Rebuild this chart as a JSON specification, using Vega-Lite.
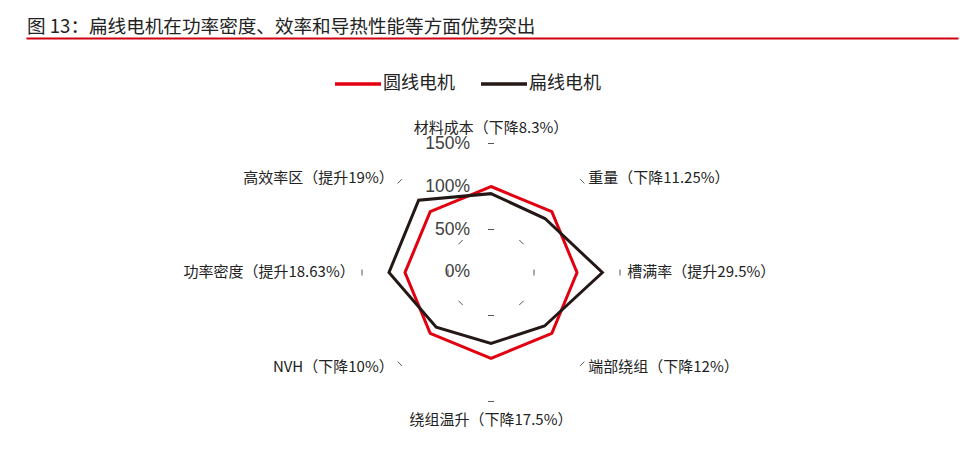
{
  "$schema": "https://vega.github.io/schema/vega-lite/v6.json",
  "width": 932,
  "height": 418,
  "autosize": {"type": "none"},
  "padding": {"left": 26, "right": 2, "top": 38, "bottom": 0},
  "background": "white",
  "title": {
    "text": "图 13：扁线电机在功率密度、效率和导热性能等方面优势突出",
    "anchor": "start",
    "font": "Noto Sans CJK SC",
    "fontSize": 18.6,
    "fontWeight": "normal",
    "color": "#222222",
    "offset": 1,
    "dx": 1
  },
  "config": {"view": {"stroke": null}},
  "datasets": {
    "radar": [
      {"motor": "圆线电机", "dim": "材料成本", "order": 0, "value": 100},
      {"motor": "圆线电机", "dim": "重量", "order": 1, "value": 100},
      {"motor": "圆线电机", "dim": "槽满率", "order": 2, "value": 100},
      {"motor": "圆线电机", "dim": "端部绕组", "order": 3, "value": 100},
      {"motor": "圆线电机", "dim": "绕组温升", "order": 4, "value": 100},
      {"motor": "圆线电机", "dim": "NVH", "order": 5, "value": 100},
      {"motor": "圆线电机", "dim": "功率密度", "order": 6, "value": 100},
      {"motor": "圆线电机", "dim": "高效率区", "order": 7, "value": 100},
      {"motor": "扁线电机", "dim": "材料成本", "order": 0, "value": 91.7},
      {"motor": "扁线电机", "dim": "重量", "order": 1, "value": 88.75},
      {"motor": "扁线电机", "dim": "槽满率", "order": 2, "value": 129.5},
      {"motor": "扁线电机", "dim": "端部绕组", "order": 3, "value": 88},
      {"motor": "扁线电机", "dim": "绕组温升", "order": 4, "value": 82.5},
      {"motor": "扁线电机", "dim": "NVH", "order": 5, "value": 90},
      {"motor": "扁线电机", "dim": "功率密度", "order": 6, "value": 118.63},
      {"motor": "扁线电机", "dim": "高效率区", "order": 7, "value": 119}
    ],
    "labels": [
      {"order": 0, "label": "材料成本（下降8.3%）"},
      {"order": 1, "label": "重量（下降11.25%）"},
      {"order": 2, "label": "槽满率（提升29.5%）"},
      {"order": 3, "label": "端部绕组（下降12%）"},
      {"order": 4, "label": "绕组温升（下降17.5%）"},
      {"order": 5, "label": "NVH（下降10%）"},
      {"order": 6, "label": "功率密度（提升18.63%）"},
      {"order": 7, "label": "高效率区（提升19%）"}
    ],
    "rings": [
      {"ring": 50, "order": [0, 1, 2, 3, 4, 5, 6, 7]},
      {"ring": 100, "order": [0, 1, 2, 3, 4, 5, 6, 7]},
      {"ring": 150, "order": [0, 1, 2, 3, 4, 5, 6, 7]}
    ],
    "ticks": [
      {"value": 0, "text": "0%"},
      {"value": 50, "text": "50%"},
      {"value": 100, "text": "100%"},
      {"value": 150, "text": "150%"}
    ]
  },
  "layer": [
    {
      "data": {"name": "rings"},
      "transform": [
        {"flatten": ["order"]},
        {"calculate": "datum.order * PI / 4", "as": "a"},
        {"calculate": "datum.ring * sin(datum.a) - 3.5 * cos(datum.a)", "as": "x1"},
        {"calculate": "datum.ring * sin(datum.a) + 3.5 * cos(datum.a)", "as": "x2"},
        {"calculate": "datum.ring * cos(datum.a) + 3.5 * sin(datum.a)", "as": "y1"},
        {"calculate": "datum.ring * cos(datum.a) - 3.5 * sin(datum.a)", "as": "y2"}
      ],
      "mark": {"type": "rule", "color": "#555555", "strokeWidth": 1},
      "encoding": {
        "x": {
          "field": "x1",
          "type": "quantitative",
          "scale": {"domain": [-540.7, 543.0], "nice": false, "zero": false},
          "axis": {
            "orient": "top",
            "domain": true,
            "domainColor": "#d00010",
            "domainWidth": 2,
            "labels": false,
            "ticks": false,
            "grid": false,
            "title": null
          }
        },
        "x2": {"field": "x2"},
        "y": {
          "field": "y1",
          "type": "quantitative",
          "scale": {"domain": [-213.4, 272.7], "nice": false, "zero": false},
          "axis": null
        },
        "y2": {"field": "y2"}
      }
    },
    {
      "data": {"name": "ticks"},
      "mark": {
        "type": "text",
        "align": "right",
        "baseline": "middle",
        "dx": -21,
        "font": "Liberation Sans",
        "fontSize": 17.5,
        "color": "#404040"
      },
      "encoding": {
        "x": {"datum": 0, "type": "quantitative"},
        "y": {"field": "value", "type": "quantitative"},
        "text": {"field": "text"}
      }
    },
    {
      "data": {"name": "radar"},
      "transform": [
        {"calculate": "datum.order * PI / 4", "as": "a"},
        {"calculate": "datum.value * sin(datum.a)", "as": "px"},
        {"calculate": "datum.value * cos(datum.a)", "as": "py"}
      ],
      "mark": {"type": "line", "interpolate": "linear-closed", "strokeWidth": 3},
      "encoding": {
        "x": {"field": "px", "type": "quantitative"},
        "y": {"field": "py", "type": "quantitative"},
        "order": {"field": "order"},
        "color": {
          "field": "motor",
          "type": "nominal",
          "scale": {"domain": ["圆线电机", "扁线电机"], "range": ["#e00010", "#231815"]},
          "legend": {
            "title": null,
            "orient": "none",
            "direction": "horizontal",
            "legendX": 307,
            "legendY": 21,
            "padding": 0,
            "symbolType": "stroke",
            "symbolSize": 2116,
            "symbolStrokeWidth": 3.5,
            "labelFont": "Noto Sans CJK SC",
            "labelFontSize": 18,
            "labelColor": "#222222",
            "labelOffset": 0,
            "columnPadding": 19
          }
        }
      }
    },
    {
      "data": {"name": "labels"},
      "transform": [
        {"filter": "datum.order == 0 || datum.order == 4"},
        {"calculate": "datum.order * PI / 4", "as": "a"},
        {"calculate": "datum.order == 0 ? 168 : 171", "as": "r"},
        {"calculate": "datum.r * sin(datum.a)", "as": "lx"},
        {"calculate": "datum.r * cos(datum.a)", "as": "ly"}
      ],
      "mark": {
        "type": "text",
        "align": "center",
        "baseline": "middle",
        "font": "Noto Sans CJK SC",
        "fontSize": 15,
        "color": "#222222"
      },
      "encoding": {
        "x": {"field": "lx", "type": "quantitative"},
        "y": {"field": "ly", "type": "quantitative"},
        "text": {"field": "label"}
      }
    },
    {
      "data": {"name": "labels"},
      "transform": [
        {"filter": "datum.order >= 1 && datum.order <= 3"},
        {"calculate": "datum.order * PI / 4", "as": "a"},
        {"calculate": "155 * sin(datum.a)", "as": "lx"},
        {"calculate": "155 * cos(datum.a)", "as": "ly"}
      ],
      "mark": {
        "type": "text",
        "align": "left",
        "baseline": "middle",
        "dx": 3,
        "font": "Noto Sans CJK SC",
        "fontSize": 15,
        "color": "#222222"
      },
      "encoding": {
        "x": {"field": "lx", "type": "quantitative"},
        "y": {"field": "ly", "type": "quantitative"},
        "text": {"field": "label"}
      }
    },
    {
      "data": {"name": "labels"},
      "transform": [
        {"filter": "datum.order >= 5"},
        {"calculate": "datum.order * PI / 4", "as": "a"},
        {"calculate": "155 * sin(datum.a)", "as": "lx"},
        {"calculate": "155 * cos(datum.a)", "as": "ly"}
      ],
      "mark": {
        "type": "text",
        "align": "right",
        "baseline": "middle",
        "dx": -3,
        "font": "Noto Sans CJK SC",
        "fontSize": 15,
        "color": "#222222"
      },
      "encoding": {
        "x": {"field": "lx", "type": "quantitative"},
        "y": {"field": "ly", "type": "quantitative"},
        "text": {"field": "label"}
      }
    }
  ]
}
